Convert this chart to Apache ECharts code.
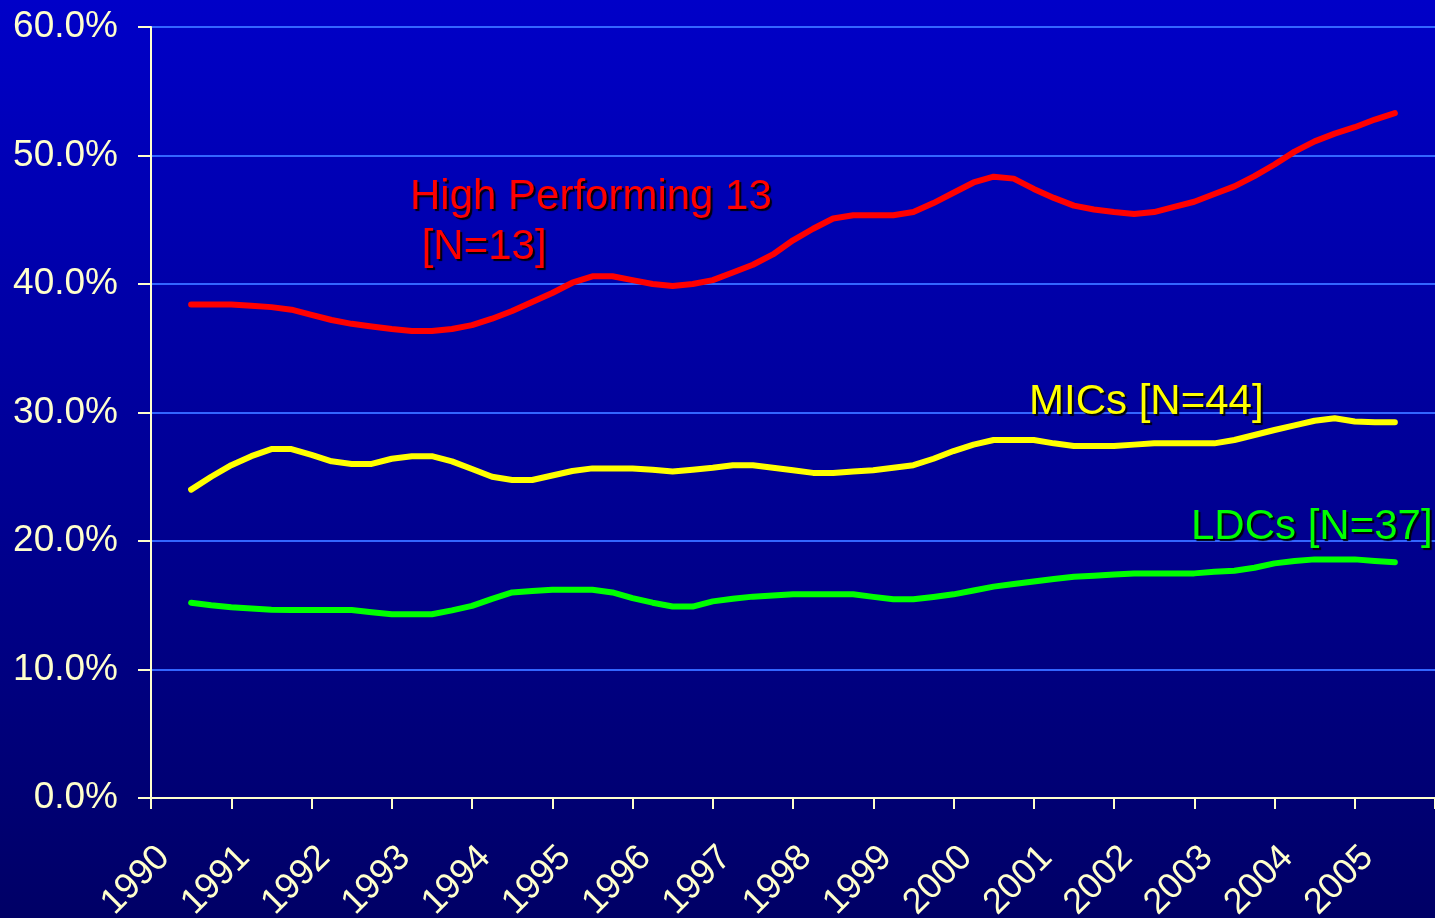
<!DOCTYPE html>
<html>
<head>
<meta charset="utf-8">
<script src="https://cdn.jsdelivr.net/npm/echarts@6/dist/echarts.min.js"></script>
<style>
html,body{margin:0;padding:0;background:#000080;}
#chart{width:1435px;height:918px;}
</style>
</head>
<body>
<div id="chart"></div>
<script>
// Tick labels (years) on the x axis
const years = [1990,1991,1992,1993,1994,1995,1996,1997,1998,1999,2000,2001,2002,2003,2004,2005];
// Quarterly observations, from mid-1990 to mid-2005 (61 points), share in %
const highPerforming = [
 38.4,38.4,38.4,38.3,38.2,38.0,37.6,37.2,36.9,36.7,
 36.5,36.35,36.35,36.5,36.8,37.3,37.9,38.6,39.3,40.1,
 40.6,40.6,40.3,40.0,39.85,40.0,40.3,40.9,41.5,42.3,
 43.4,44.3,45.1,45.35,45.35,45.35,45.6,46.3,47.1,47.9,
 48.35,48.2,47.4,46.7,46.1,45.8,45.6,45.45,45.6,46.0,
 46.4,47.0,47.6,48.4,49.3,50.3,51.1,51.7,52.2,52.8,53.3
];
const mics = [
 24.0,25.0,25.9,26.6,27.15,27.15,26.7,26.2,26.0,26.0,
 26.4,26.6,26.6,26.2,25.6,25.0,24.75,24.75,25.1,25.45,
 25.65,25.65,25.65,25.55,25.4,25.55,25.7,25.9,25.9,25.7,
 25.5,25.3,25.3,25.4,25.5,25.7,25.9,26.4,27.0,27.5,
 27.86,27.86,27.86,27.6,27.4,27.4,27.4,27.5,27.6,27.6,
 27.6,27.6,27.86,28.25,28.64,29.0,29.36,29.55,29.3,29.24,29.24
];
const ldcs = [
 15.2,15.0,14.85,14.75,14.65,14.63,14.63,14.63,14.63,14.45,
 14.3,14.3,14.3,14.6,14.95,15.5,16.0,16.1,16.2,16.2,
 16.2,16.0,15.55,15.2,14.9,14.9,15.3,15.5,15.67,15.75,
 15.85,15.85,15.85,15.85,15.65,15.46,15.46,15.65,15.85,16.15,
 16.45,16.65,16.85,17.05,17.22,17.3,17.4,17.48,17.48,17.48,
 17.48,17.6,17.69,17.92,18.26,18.45,18.57,18.57,18.57,18.45,18.34
];
const seriesNames = ['High Performing 13 [N=13]', 'MICs [N=44]', 'LDCs [N=37]'];
const yTicks = [0,10,20,30,40,50,60];

const FONT = '"Liberation Sans", Arial, sans-serif';
const CREAM = '#FFFFCC';

function toPoints(arr){
  // each value sits at the middle of its year band, one point per quarter
  return arr.map((v,i)=>[years[0] + 0.5 + i*0.25, v]);
}

const xMin = years[0], xMax = years[years.length-1] + 1;
const shadow = {textShadowColor:'rgba(0,0,0,0.95)',textShadowOffsetX:2,textShadowOffsetY:2,textShadowBlur:1};

const chart = echarts.init(document.getElementById('chart'), null, {renderer:'canvas'});
const option = {
  animation:false,
  backgroundColor:{type:'linear',x:0,y:0,x2:0,y2:1,colorStops:[{offset:0,color:'#0000C8'},{offset:1,color:'#000066'}]},
  grid:[
    {left:151,right:0,top:27,bottom:120,containLabel:false,outerBoundsMode:'none'},
    // label-only grid, nudged right so that the slanted year labels sit like the original
    {left:164,right:-13,top:27,bottom:120,containLabel:false,outerBoundsMode:'none'}
  ],
  xAxis:[
    {
      gridIndex:0, type:'value', min:xMin, max:xMax, interval:1,
      axisLine:{show:true,onZero:false,lineStyle:{color:CREAM,width:2}},
      axisTick:{show:true,length:11,lineStyle:{color:CREAM,width:2}},
      splitLine:{show:false},
      axisLabel:{show:false}
    },
    {
      gridIndex:1, type:'value', min:xMin, max:xMax, interval:1,
      axisLine:{show:false}, axisTick:{show:false}, splitLine:{show:false},
      axisLabel:{
        show:true, rotate:45, margin:54, color:CREAM,
        fontFamily:FONT, fontSize:36,
        showMinLabel:true, showMaxLabel:false,
        formatter:(v)=> years.indexOf(v) >= 0 ? String(v) : ''
      }
    }
  ],
  yAxis:[
    {
      gridIndex:0, type:'value', min:yTicks[0], max:yTicks[yTicks.length-1], interval:10,
      axisLine:{show:true,lineStyle:{color:CREAM,width:2}},
      axisTick:{show:true,length:13,lineStyle:{color:CREAM,width:2}},
      splitLine:{show:true,lineStyle:{color:'#3366FF',width:2}},
      axisLabel:{color:CREAM,fontFamily:FONT,fontSize:37,margin:33,
        formatter:(v)=> v.toFixed(1)+'%'}
    },
    {gridIndex:1, type:'value', min:0, max:60, show:false}
  ],
  series:[
    {name:seriesNames[0],type:'line',xAxisIndex:0,yAxisIndex:0,data:toPoints(highPerforming),symbol:'none',
      lineStyle:{color:'#FF0000',width:6,cap:'round',join:'round'},z:5},
    {name:seriesNames[1],type:'line',xAxisIndex:0,yAxisIndex:0,data:toPoints(mics),symbol:'none',
      lineStyle:{color:'#FFFF00',width:6,cap:'round',join:'round'},z:5},
    {name:seriesNames[2],type:'line',xAxisIndex:0,yAxisIndex:0,data:toPoints(ldcs),symbol:'none',
      lineStyle:{color:'#00FF00',width:6,cap:'round',join:'round'},z:5}
  ],
  graphic:[
    {type:'text',x:410,y:172,z:10,style:Object.assign({text:'High Performing 13\n [N=13]',fill:'#FF0000',
      font:'42px '+FONT,lineHeight:50,verticalAlign:'top',align:'left'},shadow)},
    {type:'text',x:1029,y:402,z:10,style:Object.assign({text:'MICs [N=44]',fill:'#FFFF00',
      font:'42px '+FONT,verticalAlign:'middle',align:'left'},shadow)},
    {type:'text',x:1191,y:527,z:10,style:Object.assign({text:'LDCs [N=37]',fill:'#00FF00',
      font:'42px '+FONT,verticalAlign:'middle',align:'left'},shadow)}
  ]
};
chart.setOption(option);
</script>
</body>
</html>
